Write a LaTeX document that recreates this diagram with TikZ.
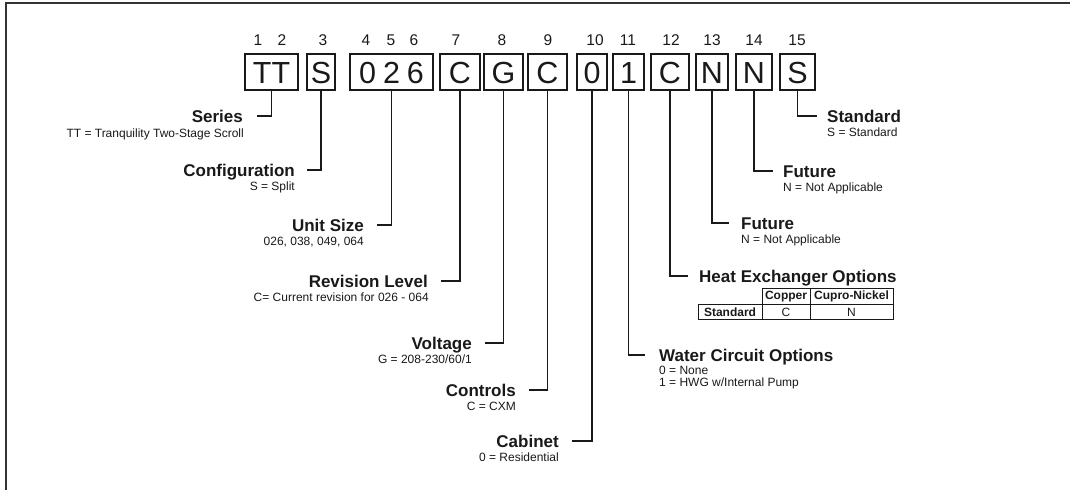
\documentclass[tikz,border=0pt]{standalone}
\usepackage{fontspec}
\setmainfont{Liberation Sans}

\begin{document}
\begin{tikzpicture}[x=1pt, y=-1pt,
  every node/.style={text=black!90},
  codebox/.style={draw=black!90, line width=1.3pt, minimum height=36pt, inner sep=0pt, text height=22pt, text depth=0pt, font=\fontsize{30.5}{30.5}\selectfont},
  digit/.style={anchor=base, inner sep=0pt, font=\fontsize{15.5}{15.5}\selectfont},
  title/.style={inner sep=0pt, text height=12.2pt, text depth=0pt, font=\bfseries\fontsize{17}{17}\selectfont},
  note/.style={inner sep=0pt, font=\fontsize{12}{12}\selectfont},
  cell/.style={draw=black!90, line width=1pt, minimum height=15.5pt, inner sep=0pt, font=\fontsize{12}{12}\selectfont},
  leader/.style={draw=black!90, line width=1.5pt}]
  \useasboundingbox (0,0) rectangle (1070,490);

  % frame (top and left edge)
  \draw[black!80, line width=1.5pt] (6,490) -- (6,3) -- (1070,3);

  % Digit positions
  \node[digit] at (258,45) {1};
  \node[digit] at (282,45) {2};
  \node[digit] at (323,45) {3};
  \node[digit] at (366,45) {4};
  \node[digit] at (391,45) {5};
  \node[digit] at (414,45) {6};
  \node[digit] at (456,45) {7};
  \node[digit] at (502,45) {8};
  \node[digit] at (548,45) {9};
  \node[digit] at (595,45) {10};
  \node[digit] at (628,45) {11};
  \node[digit] at (671,45) {12};
  \node[digit] at (712,45) {13};
  \node[digit] at (754,45) {14};
  \node[digit] at (797,45) {15};

  % Model code boxes
  \node[codebox, minimum width=53pt] (bSeries) at (271.5,72) {TT};
  \node[codebox, minimum width=28pt] (bConfig) at (321,72) {S};
  \node[codebox, minimum width=83pt] (bSize) at (391.5,72) {0\hspace{7pt}2\hspace{7pt}6};
  \node[codebox, minimum width=40pt] (bRev) at (460,72) {C};
  \node[codebox, minimum width=39pt] (bVolt) at (503.5,72) {G};
  \node[codebox, minimum width=39pt] (bCtrl) at (547.5,72) {C};
  \node[codebox, minimum width=30pt] (bCab) at (592,72) {0};
  \node[codebox, minimum width=31pt] (bWater) at (628.5,72) {1};
  \node[codebox, minimum width=38pt] (bHx) at (670,72) {C};
  \node[codebox, minimum width=32pt] (bFutA) at (712,72) {N};
  \node[codebox, minimum width=36pt] (bFutB) at (754,72) {N};
  \node[codebox, minimum width=35pt] (bStd) at (797.5,72) {S};

  % Left side labels
  \node[title, anchor=base east] (series) at (243,122) {Series};
  \node[note, anchor=base east] (seriesN) at (244,137) {TT = Tranquility Two-Stage Scroll};

  \node[title, anchor=base east] (config) at (295,176) {Configuration};
  \node[note, anchor=base east] (configN) at (295,190) {S = Split};

  \node[title, anchor=base east] (size) at (364,231) {Unit Size};
  \node[note, anchor=base east] (sizeN) at (364,245) {026, 038, 049, 064};

  \node[title, anchor=base east] (rev) at (428,287) {Revision Level};
  \node[note, anchor=base east] (revN) at (429,301) {C= Current revision for 026 - 064};

  \node[title, anchor=base east] (volt) at (472,349) {Voltage};
  \node[note, anchor=base east] (voltN) at (472,363) {G = 208-230/60/1};

  \node[title, anchor=base east] (ctrl) at (516,396) {Controls};
  \node[note, anchor=base east] (ctrlN) at (516,410) {C = CXM};

  \node[title, anchor=base east] (cab) at (559,447) {Cabinet};
  \node[note, anchor=base east] (cabN) at (559,461) {0 = Residential};

  % Right side labels
  \node[title, anchor=base west] (water) at (659,361) {Water Circuit Options};
  \node[note, anchor=base west] (waterN) at (659,374) {0 = None};
  \node[note, anchor=base west] (waterM) at (659,386) {1 = HWG w/Internal Pump};

  \node[title, anchor=base west] (hx) at (699,282) {Heat Exchanger Options};

  \node[title, anchor=base west] (futA) at (741,229) {Future};
  \node[note, anchor=base west] (futAN) at (741,243) {N = Not Applicable};

  \node[title, anchor=base west] (futB) at (783,177) {Future};
  \node[note, anchor=base west] (futBN) at (783,191) {N = Not Applicable};

  \node[title, anchor=base west] (std) at (827,122) {Standard};
  \node[note, anchor=base west] (stdN) at (827,136) {S = Standard};

  % Heat exchanger table
  \node[cell, minimum width=48pt] (copper) at (786,296.5) {\bfseries Copper};
  \node[cell, minimum width=83pt] (cupro) at (851.5,296.5) {\bfseries Cupro-Nickel};
  \node[cell, minimum width=64pt] (rowStd) at (730,312) {\bfseries Standard};
  \node[cell, minimum width=48pt] (cellC) at (786,312) {C};
  \node[cell, minimum width=83pt] (cellN) at (851.5,312) {N};

  % Leaders
  \draw[leader] (bSeries.south) |- ([xshift=14pt]series.east);
  \draw[leader] (bConfig.south) |- ([xshift=12pt]config.east);
  \draw[leader] (bSize.south) |- ([xshift=13pt]size.east);
  \draw[leader] (bRev.south) |- ([xshift=13pt]rev.east);
  \draw[leader] (bVolt.south) |- ([xshift=13pt]volt.east);
  \draw[leader] (bCtrl.south) |- ([xshift=13pt]ctrl.east);
  \draw[leader] (bCab.south) |- ([xshift=13pt]cab.east);
  \draw[leader] (bWater.south) |- ([xshift=-14pt]water.west);
  \draw[leader] (bHx.south) |- ([xshift=-11pt]hx.west);
  \draw[leader] (bFutA.south) |- ([xshift=-12pt]futA.west);
  \draw[leader] (bFutB.south) |- ([xshift=-10pt]futB.west);
  \draw[leader] (bStd.south) |- ([xshift=-10pt]std.west);
\end{tikzpicture}
\end{document}
